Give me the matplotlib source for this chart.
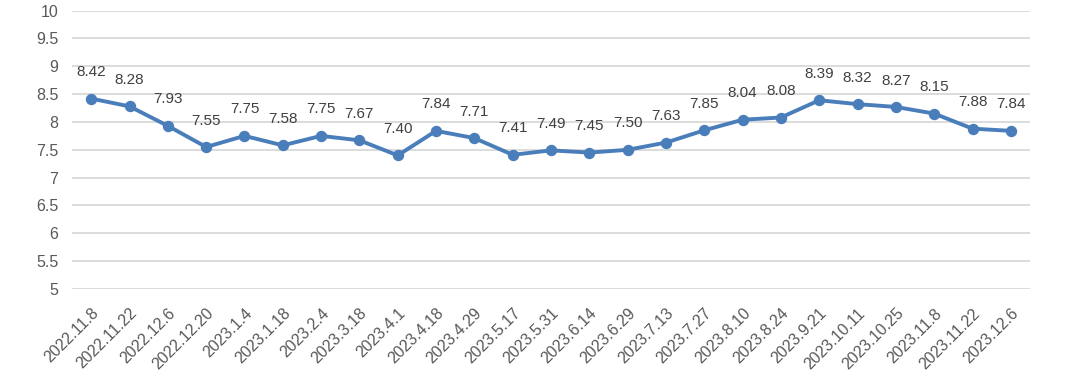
import matplotlib
matplotlib.use("Agg")
import matplotlib.pyplot as plt

dates = ["2022.11.8", "2022.11.22", "2022.12.6", "2022.12.20", "2023.1.4", "2023.1.18",
         "2023.2.4", "2023.3.18", "2023.4.1", "2023.4.18", "2023.4.29", "2023.5.17",
         "2023.5.31", "2023.6.14", "2023.6.29", "2023.7.13", "2023.7.27", "2023.8.10",
         "2023.8.24", "2023.9.21", "2023.10.11", "2023.10.25", "2023.11.8", "2023.11.22",
         "2023.12.6"]
values = [8.42, 8.28, 7.93, 7.55, 7.75, 7.58, 7.75, 7.67, 7.40, 7.84, 7.71, 7.41,
          7.49, 7.45, 7.50, 7.63, 7.85, 8.04, 8.08, 8.39, 8.32, 8.27, 8.15, 7.88, 7.84]
yticks = [5, 5.5, 6, 6.5, 7, 7.5, 8, 8.5, 9, 9.5, 10]
ytick_labels = ["5", "5.5", "6", "6.5", "7", "7.5", "8", "8.5", "9", "9.5", "10"]

plt.rcParams['font.family'] = ['Liberation Sans', 'DejaVu Sans']

fig = plt.figure(figsize=(10.8, 3.79), dpi=100)
ax = fig.add_axes([0.0667, 0.2375, 0.887, 0.7345])

x = list(range(len(values)))
color = "#4a7ebb"
ax.plot(x, values, color=color, linewidth=2.8, marker="o", markersize=7.2,
        solid_capstyle="round", zorder=3)

for xi, v in zip(x, values):
    ax.annotate(f"{v:.2f}", (xi, v), xytext=(0, 19), textcoords="offset points",
                ha="center", va="center", fontsize=11, color="#404040")

ax.set_xlim(-0.5, len(values) - 0.5)
ax.set_ylim(5, 10)
ax.set_yticks(yticks)
ax.set_yticklabels(ytick_labels, fontsize=11.5, color="#595959")
ax.set_xticks(x)
ax.set_xticklabels(dates, rotation=45, ha="right", rotation_mode="anchor",
                   fontsize=11.5, color="#595959")
ax.tick_params(axis="both", length=0)
ax.tick_params(axis="y", pad=10)
ax.tick_params(axis="x", pad=12)
ax.grid(axis="y", color="#d9d9d9", linewidth=1.3)
ax.set_axisbelow(True)
for s in ax.spines.values():
    s.set_visible(False)

fig.savefig("out.png", dpi=100)
